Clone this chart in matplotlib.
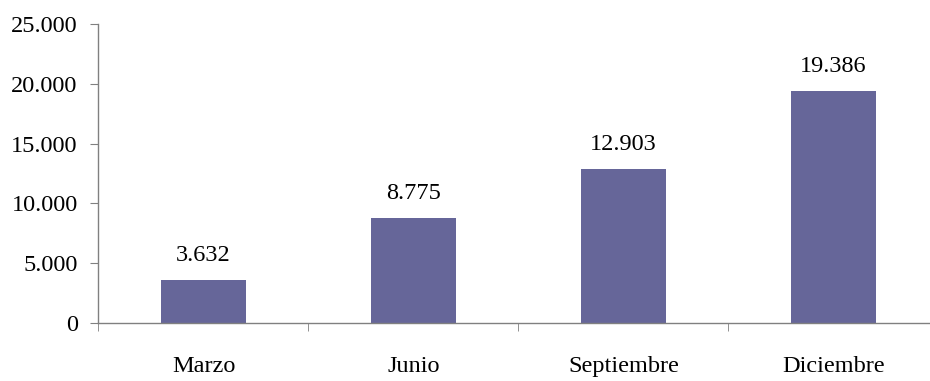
import matplotlib
matplotlib.use('Agg')
import matplotlib.pyplot as plt
import numpy as np
from matplotlib.ticker import FuncFormatter, FixedLocator

# Data
meses = ["Marzo", "Junio", "Septiembre", "Diciembre"]
valores = [3632, 8775, 12903, 19386]
yticks = [0, 5000, 10000, 15000, 20000, 25000]


def miles(v, pos=None):
    return f"{int(v):,}".replace(",", ".")


plt.rcParams['font.family'] = ['Liberation Serif', 'DejaVu Serif']
fs = 17.5

fig = plt.figure(figsize=(9.3, 3.81), dpi=100)
ax = fig.add_axes([0.1059, 0.152, 0.9032, 0.785])

x = np.arange(len(meses))
bars = ax.bar(x, valores, width=0.405, color='#666699')

for b, v in zip(bars, valores):
    ax.annotate(miles(v), (b.get_x() + b.get_width() / 2, v),
                xytext=(0, 10), textcoords='offset points',
                ha='center', va='bottom', fontsize=fs)

ax.set_xlim(-0.5, len(meses) - 0.5)
ax.set_ylim(0, 25000)
ax.set_yticks(yticks)
ax.yaxis.set_major_formatter(FuncFormatter(miles))

ax.set_xticks(x)
ax.set_xticklabels(meses)
ax.xaxis.set_minor_locator(FixedLocator(np.arange(-0.5, len(meses), 1.0)))
ax.tick_params(axis='x', which='major', length=0, pad=24, labelsize=fs)
ax.tick_params(axis='x', which='minor', length=6, direction='out', color='#808080')
ax.tick_params(axis='y', length=6, direction='out', color='#808080', labelsize=fs, pad=9)

for s in ['top', 'right']:
    ax.spines[s].set_visible(False)
for s in ['left', 'bottom']:
    ax.spines[s].set_color('#808080')
    ax.spines[s].set_linewidth(1.0)

fig.savefig('out.png', dpi=100)
